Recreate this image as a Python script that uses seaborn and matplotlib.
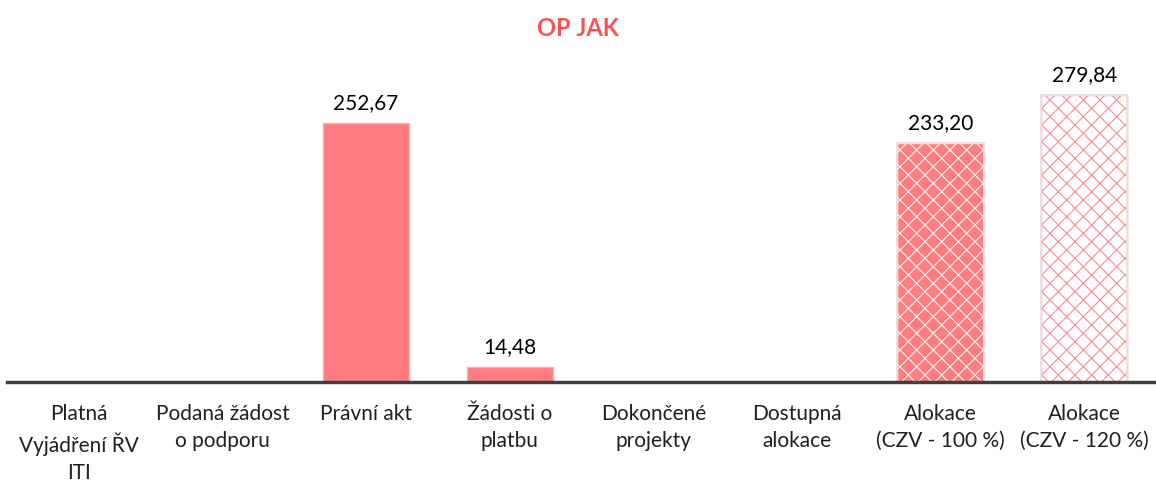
import matplotlib
matplotlib.use("Agg")
import matplotlib.pyplot as plt
import seaborn as sb
import pandas as pd

# Data
categories = ["Platná\nVyjádření ŘV\nITI", "Podaná žádost\no podporu", "Právní akt",
              "Žádosti o\nplatbu", "Dokončené\nprojekty", "Dostupná\nalokace",
              "Alokace\n(CZV - 100 %)", "Alokace\n(CZV - 120 %)"]
values = [0, 0, 252.67, 14.48, 0, 0, 233.20, 279.84]
title = "OP JAK"

pink = "#FF7C80"

sb.set_theme(style="white")
plt.rcParams["font.family"] = ["Lato", "DejaVu Sans"]
plt.rcParams["hatch.linewidth"] = 0.8

df = pd.DataFrame({"Kategorie": categories, "Hodnota": values})

fig = plt.figure(figsize=(11.56, 4.81), dpi=100)
ax = fig.add_axes([0.006, 0.2037, 0.994, 0.6713])

sb.barplot(data=df, x="Kategorie", y="Hodnota", color=pink, saturation=1,
           width=0.6, ax=ax)

bars = ax.patches
for b in bars:
    b.set_edgecolor("#F2B3B5")
    b.set_linewidth(1.0)

# allocation bars are hatched
bars[6].set_facecolor(pink)
bars[6].set_edgecolor("#FFF4F4")
bars[6].set_hatch("xx")
bars[7].set_facecolor("white")
bars[7].set_edgecolor("#FF8A8E")
bars[7].set_hatch("xx")
for b in bars[6:]:
    ax.add_patch(plt.Rectangle(b.get_xy(), b.get_width(), b.get_height(),
                               fill=False, edgecolor="#E4E4E4", linewidth=1.4))

labels = [f"{v:.2f}".replace(".", ",") if v > 0 else "" for v in values]
ax.bar_label(ax.containers[0], labels=labels, padding=8, fontsize=15, color="black")

ax.set_ylim(0, 315)
ax.set_xlim(-0.5, 7.5)
ax.set_xlabel("")
ax.set_ylabel("")
ax.set_yticks([])
ax.tick_params(axis="x", length=0, pad=15)
plt.setp(ax.get_xticklabels(), fontsize=15, linespacing=1.45, color="#202020")
for s in ["top", "left", "right"]:
    ax.spines[s].set_visible(False)
ax.spines["bottom"].set_color("#404040")
ax.spines["bottom"].set_linewidth(2.5)

fig.text(0.5, 0.94, title, ha="center", va="center", fontsize=17,
         fontweight="bold", color="#FF5050")

fig.savefig("out.png", dpi=100)
